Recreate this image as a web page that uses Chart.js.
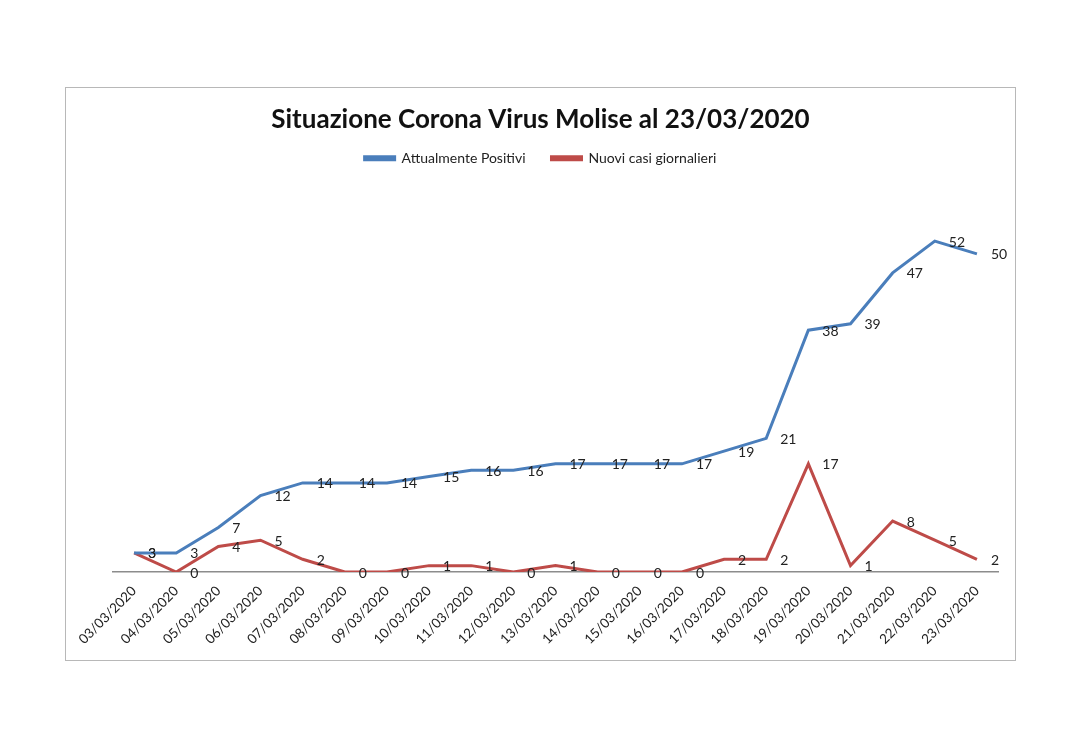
<!DOCTYPE html>
<html>
<head>
<meta charset="utf-8">
<script src="https://cdn.jsdelivr.net/npm/chart.js@4"></script>
<style>
    body { margin: 0; background: #fff; }
    #box {
        position: absolute;
        left: 65px; top: 87px;
        width: 949px; height: 572px;
        border: 1.5px solid #b8b8b8;
    }
</style>
</head>
<body>
<div id="box"><canvas id="coronaChart"></canvas></div>
<script>
// dates on the x axis
const labels = ['03/03/2020', '04/03/2020', '05/03/2020', '06/03/2020', '07/03/2020', '08/03/2020', '09/03/2020',
    '10/03/2020', '11/03/2020', '12/03/2020', '13/03/2020', '14/03/2020', '15/03/2020', '16/03/2020',
    '17/03/2020', '18/03/2020', '19/03/2020', '20/03/2020', '21/03/2020', '22/03/2020', '23/03/2020'];
const positivi = [3, 3, 7, 12, 14, 14, 14, 15, 16, 16, 17, 17, 17, 17, 19, 21, 38, 39, 47, 52, 50];
const nuoviCasi = [3, 0, 4, 5, 2, 0, 0, 1, 1, 0, 1, 0, 0, 0, 2, 2, 17, 1, 8, 5, 2];

const font = "Lato, 'Open Sans', sans-serif";

// value labels to the right of every point
const valueLabels = {
    id: 'valueLabels',
    afterDatasetsDraw(chart) {
        const ctx = chart.ctx;
        ctx.save();
        ctx.font = '14px ' + font;
        ctx.fillStyle = '#222';
        ctx.textAlign = 'left';
        ctx.textBaseline = 'middle';
        chart.data.datasets.forEach((ds, i) => {
            const meta = chart.getDatasetMeta(i);
            meta.data.forEach((pt, j) => {
                ctx.fillText(ds.data[j], pt.x + 14, pt.y + 1);
            });
        });
        ctx.restore();
    }
};

// leave more room under the legend
const legendSpace = {
    id: 'legendSpace',
    beforeInit(chart) {
        const fit = chart.legend.fit;
        chart.legend.fit = function () {
            fit.call(this);
            this.height = 65;
        };
    }
};

var ctx = document.getElementById('coronaChart').getContext('2d');
var coronaChart = new Chart(ctx, {
    type: 'line',
    data: {
        labels: labels,
        datasets: [{
            label: 'Attualmente Positivi',
            data: positivi,
            borderColor: '#4a7ebb',
            backgroundColor: '#4a7ebb',
            borderWidth: 3,
            pointRadius: 0,
            tension: 0
        }, {
            label: 'Nuovi casi giornalieri',
            data: nuoviCasi,
            borderColor: '#be4b48',
            backgroundColor: '#be4b48',
            borderWidth: 3,
            pointRadius: 0,
            tension: 0
        }]
    },
    options: {
        responsive: true,
        maintainAspectRatio: false,
        animation: false,
        layout: {
            padding: { top: 16, left: 17, right: 17, bottom: 5 }
        },
        plugins: {
            title: {
                display: true,
                text: 'Situazione Corona Virus Molise al 23/03/2020',
                color: '#111',
                font: { family: font, size: 26, weight: 'bold' },
                padding: { top: 0, bottom: -10 }
            },
            legend: {
                labels: {
                    color: '#222',
                    font: { family: font, size: 14 },
                    boxWidth: 30,
                    boxHeight: 3,
                    padding: 26
                }
            },
            tooltip: { enabled: false }
        },
        scales: {
            x: {
                offset: true,
                grid: { display: false, drawTicks: false },
                border: { display: true, color: '#8c8c8c', width: 1.5 },
                ticks: {
                    autoSkip: false,
                    maxRotation: 45,
                    minRotation: 45,
                    padding: 11,
                    color: '#222',
                    font: { family: font, size: 13.5 }
                },
                afterFit(scale) { scale.height = 83; }
            },
            y: {
                min: 0,
                max: 60,
                grid: { display: false },
                border: { display: false },
                ticks: { display: false },
                afterFit(scale) { scale.width = 30; }
            }
        }
    },
    plugins: [valueLabels, legendSpace]
});
</script>
</body>
</html>
